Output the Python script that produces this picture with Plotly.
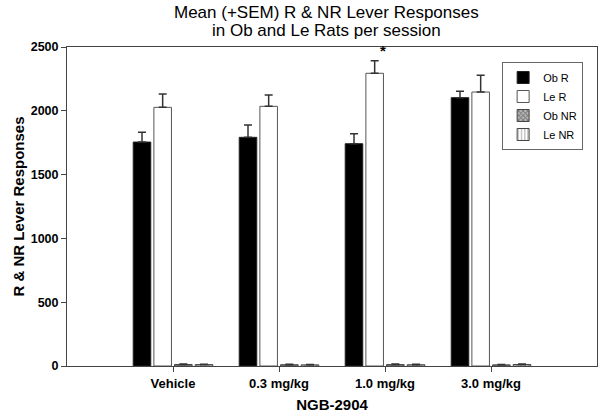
import plotly.graph_objects as go

categories = ["Vehicle", "0.3 mg/kg", "1.0 mg/kg", "3.0 mg/kg"]
ob_r = [1755, 1792, 1742, 2103]
ob_r_sem = [76, 97, 79, 50]
le_r = [2027, 2035, 2294, 2147]
le_r_sem = [105, 89, 99, 131]
ob_nr = [12, 10, 11, 9]
ob_nr_sem = [4, 3, 4, 3]
le_nr = [11, 9, 10, 12]
le_nr_sem = [3, 3, 3, 4]
y_ticks = [0, 500, 1000, 1500, 2000, 2500]

xpos = list(range(len(categories)))
errcol = "#333333"

def eb(arr):
    return dict(type="data", array=arr, symmetric=False, arrayminus=[0]*len(arr),
                color=errcol, thickness=1.5, width=4)

fig = go.Figure()
fig.add_trace(go.Bar(x=xpos, y=ob_r, name="Ob R", error_y=eb(ob_r_sem),
                     marker=dict(color="black", line=dict(color="#222", width=1))))
fig.add_trace(go.Bar(x=xpos, y=le_r, name="Le R", error_y=eb(le_r_sem),
                     marker=dict(color="white", line=dict(color="#555", width=1))))
fig.add_trace(go.Bar(x=xpos, y=ob_nr, name="Ob NR", error_y=eb(ob_nr_sem),
                     marker=dict(color="white", line=dict(color="#444", width=1),
                                 pattern=dict(shape="x", fgcolor="#333", bgcolor="#bbb", size=4, solidity=0.5))))
fig.add_trace(go.Bar(x=xpos, y=le_nr, name="Le NR", error_y=eb(le_nr_sem),
                     marker=dict(color="white", line=dict(color="#444", width=1),
                                 pattern=dict(shape="|", fgcolor="#444", bgcolor="white", size=4, solidity=0.3))))

# significance asterisk above 1.0 mg/kg Le R bar
fig.add_annotation(x=2, y=le_r[2] + le_r_sem[2], text="<b>*</b>", showarrow=False,
                   xshift=-2, yshift=10, font=dict(size=15, color="black", family="Arial"))

title_font = dict(family="Liberation Sans, Arial", size=17, color="black")
fig.add_annotation(x=0.49, xref="paper", y=1, yref="paper", yanchor="middle", yshift=35,
                   text="Mean (+SEM) R &amp; NR Lever Responses", showarrow=False, font=title_font)
fig.add_annotation(x=0.49, xref="paper", y=1, yref="paper", yanchor="middle", yshift=17,
                   text="in Ob and Le Rats per session", showarrow=False, font=title_font)

bold = dict(family="Liberation Sans, Arial", color="black")

fig.update_layout(
    width=602, height=417,
    margin=dict(l=67, r=5, t=47, b=51),
    paper_bgcolor="white", plot_bgcolor="white",
    barmode="group", bargap=0.22, bargroupgap=0.15,
    xaxis=dict(range=[-1, 4], tickmode="array", tickvals=xpos,
               ticktext=["<b>%s</b>" % c for c in categories],
               tickfont=dict(size=13, **bold), ticks="outside", ticklen=5,
               tickcolor="#444", showline=True, linecolor="#444", linewidth=1,
               mirror=True, showgrid=False, zeroline=False,
               title=dict(text="<b>NGB-2904</b>", font=dict(size=15, **bold), standoff=9)),
    yaxis=dict(range=[0, 2500], tickvals=y_ticks,
               ticktext=["<b>%d</b>" % v for v in y_ticks],
               tickfont=dict(size=12.5, **bold), ticks="outside", ticklen=5,
               tickcolor="#444", showline=True, linecolor="#444", linewidth=1,
               mirror=True, showgrid=False, zeroline=False,
               title=dict(text="<b>R &amp; NR Lever Responses</b>", font=dict(size=15, **bold), standoff=2)),
    legend=dict(x=0.821, y=0.953, xanchor="left", yanchor="top",
                bgcolor="white", bordercolor="#666", borderwidth=1,
                font=dict(size=11, **bold), tracegroupgap=0, itemwidth=30),
    showlegend=True,
)

fig.write_html("out.html", config={"displayModeBar": False},
               post_script="document.body.style.margin='0';")
